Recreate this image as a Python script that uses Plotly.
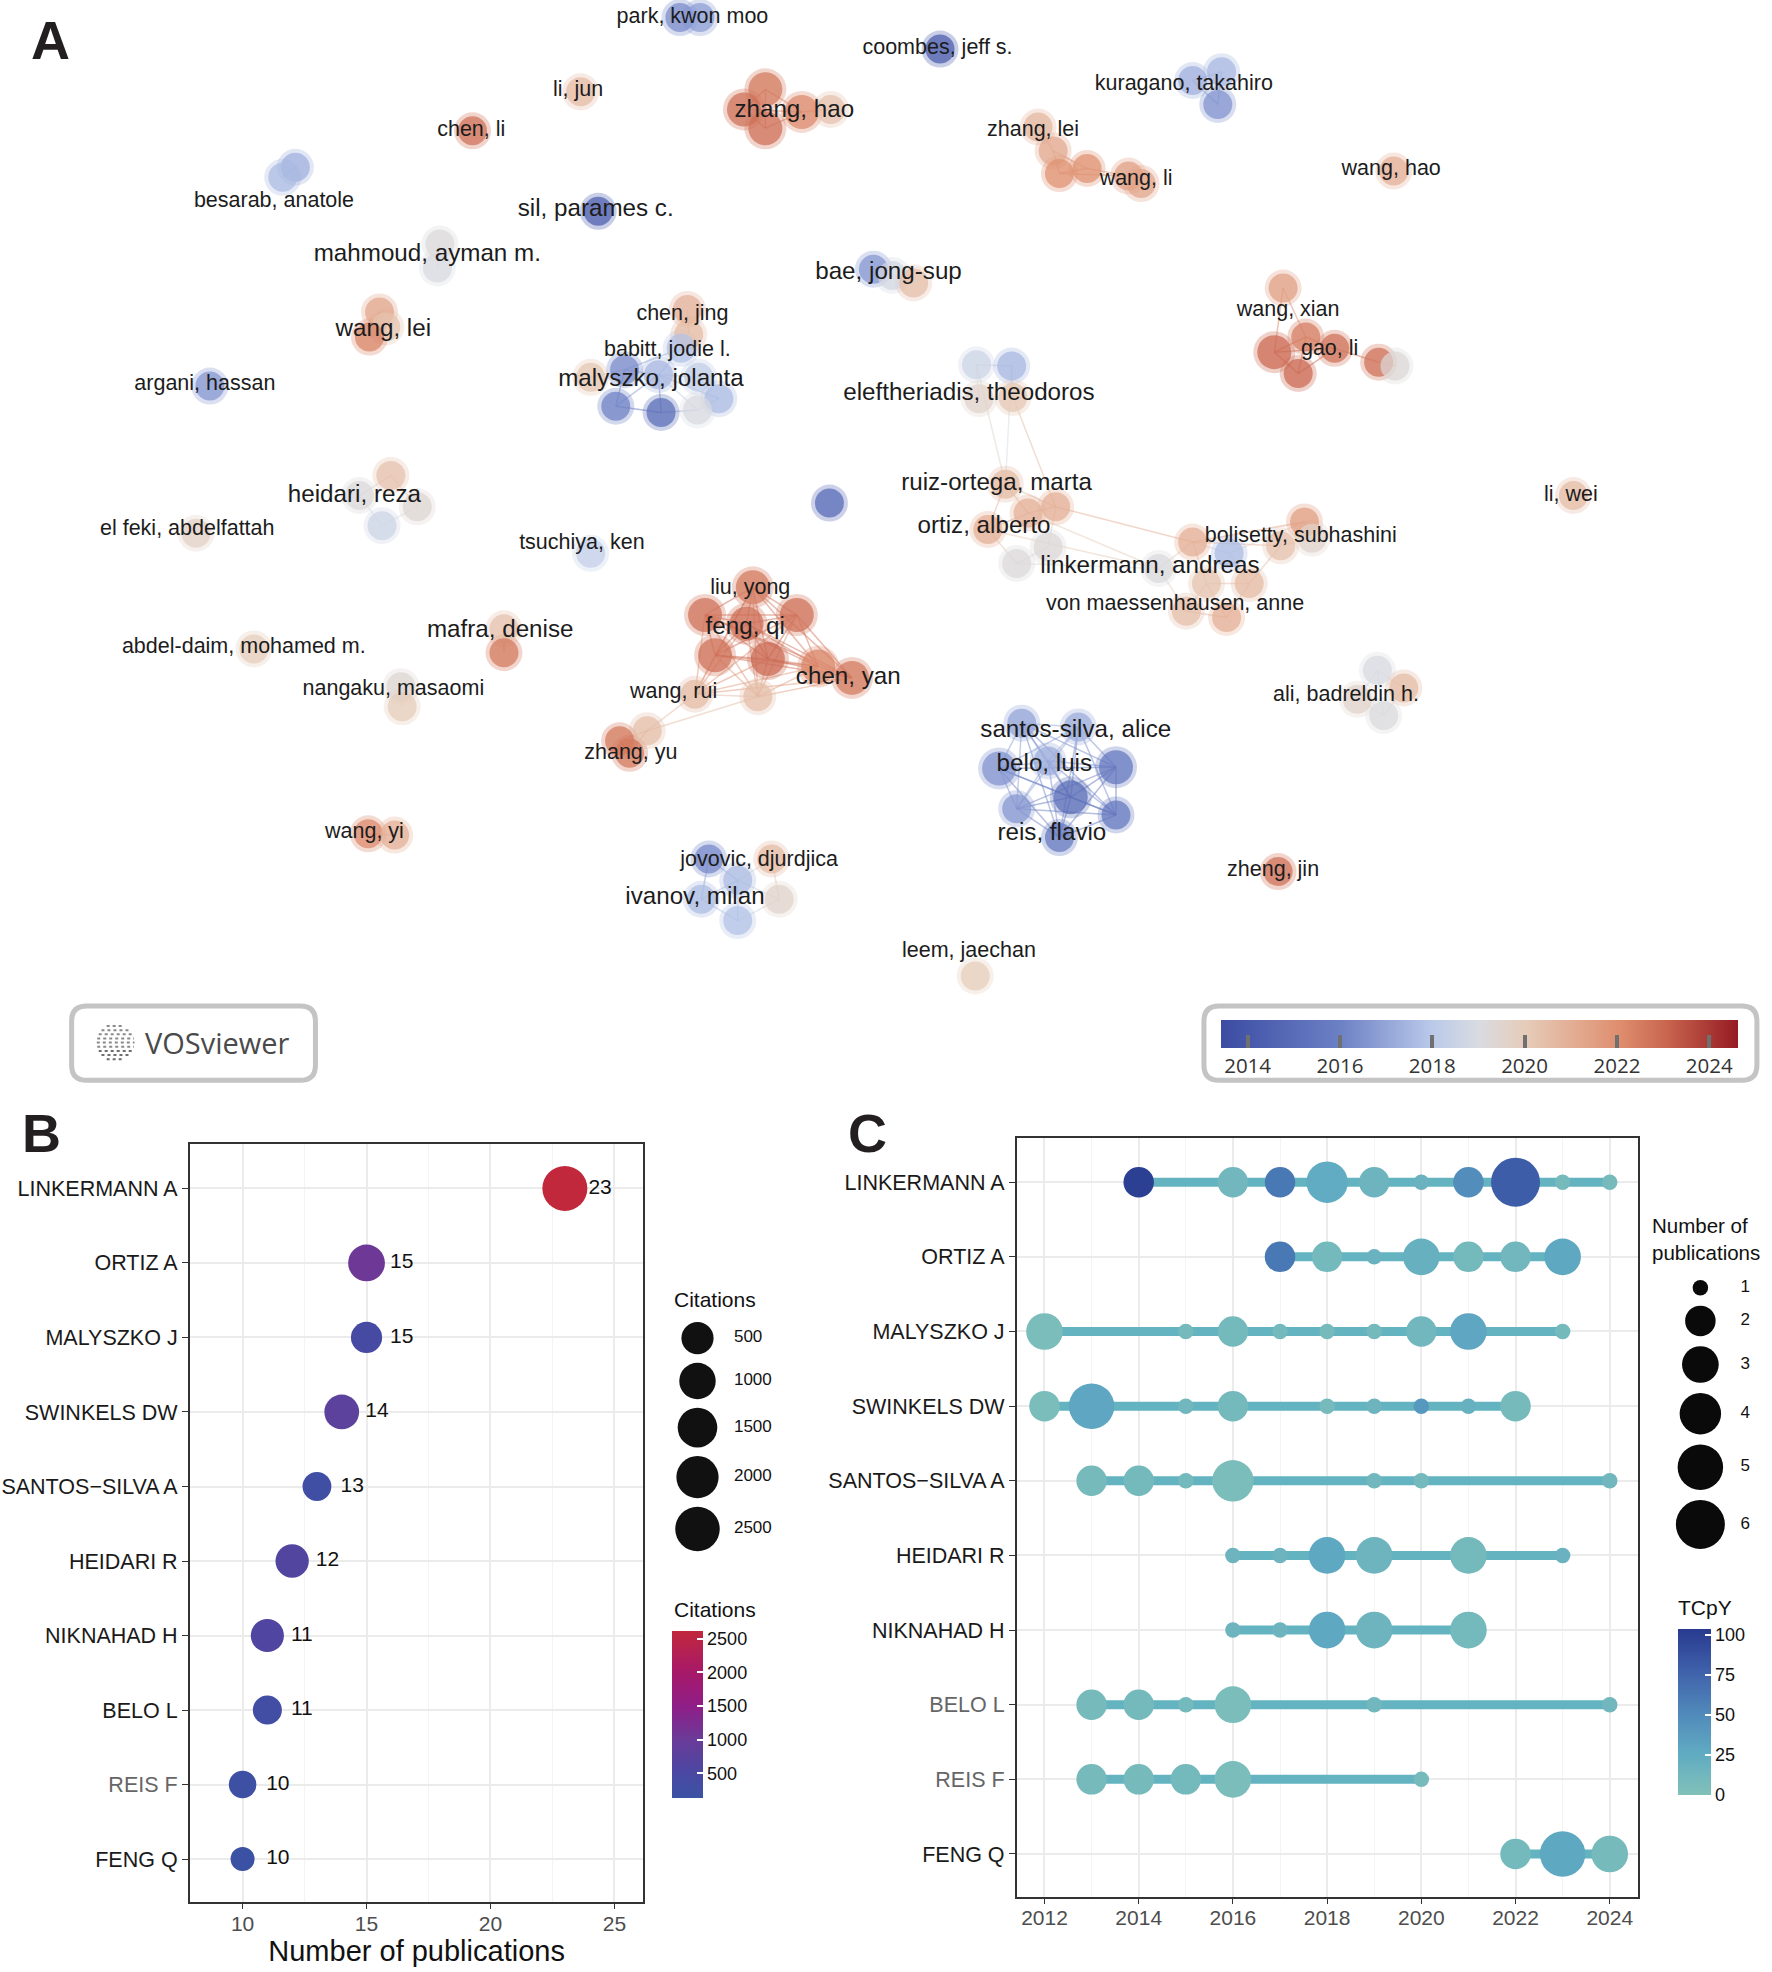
import plotly.graph_objects as go

W, H = 1772, 1972
DW, DH = 1410, 1568          # layout frame used for positions (scaled to W,H)
SX, SY = W / DW, H / DH
FONT = "Liberation Sans, Arial, sans-serif"

# ---------------- Panel A: co-authorship network ----------------
node_x = [541, 557, 748, 462, 376, 609, 592, 609, 638, 661, 235, 225, 476, 350, 348, 302, 307, 294, 547, 548,
          542, 497, 524, 470, 556, 572, 490, 526, 555, 167, 311, 286, 332, 304, 156, 470, 660, 695, 710, 727,
          949, 972, 969, 826, 838, 843, 865, 898, 908, 1109, 1021, 1039, 1014, 1062, 1033, 1097, 1110, 777, 805, 779,
          806, 800, 840, 786, 834, 809, 922, 949, 978, 960, 994, 944, 976, 1038, 1044, 1019, 1252, 599, 561, 634,
          594, 569, 611, 651, 678, 553, 603, 515, 493, 501, 401, 401, 202, 319, 320, 293, 314, 564, 614, 587,
          558, 620, 587, 813, 858, 795, 834, 888, 852, 809, 888, 843, 1096, 1117, 1080, 1101, 1017, 776, 818]
node_y = [14, 14, 39, 73, 104, 71, 87, 102, 89, 87, 133, 141, 168, 194, 213, 248, 260, 268, 246, 266,
          277, 294, 298, 300, 300, 317, 323, 328, 326, 307, 378, 394, 403, 418, 424, 440, 400, 214, 219, 225,
          64, 57, 83, 101, 120, 138, 134, 140, 146, 136, 229, 268, 280, 277, 297, 288, 291, 290, 291, 317,
          316, 385, 403, 421, 435, 448, 452, 431, 440, 464, 464, 486, 491, 415, 428, 434, 394, 467, 489, 489,
          496, 521, 524, 530, 539, 552, 554, 581, 589, 599, 500, 519, 516, 546, 562, 663, 664, 683, 683, 700,
          715, 715, 732, 575, 578, 611, 605, 610, 634, 643, 648, 666, 533, 547, 556, 569, 693, 776, 408]
node_year = [2016.3, 2016.8, 2014.2, 2020.6, 2022.8, 2022.6, 2022.8, 2022.8, 2022.2, 2020.4, 2017.3, 2017.6,
             2014.3, 2019.2, 2019.0, 2021.3, 2020.3, 2022.3, 2020.9, 2020.6, 2017.8, 2016.3, 2017.5, 2020.2,
             2018.2, 2017.6, 2016.0, 2015.0, 2019.0, 2016.6, 2020.4, 2019.2, 2019.4, 2018.6, 2019.7, 2018.3,
             2014.8, 2016.6, 2018.8, 2020.5, 2017.3, 2017.5, 2016.5, 2020.8, 2021.2, 2022.0, 2022.0, 2021.5,
             2021.3, 2021.0, 2021.5, 2022.5, 2023.0, 2022.8, 2023.0, 2022.8, 2019.3, 2018.6, 2017.5, 2019.6,
             2020.2, 2020.6, 2021.0, 2021.0, 2019.3, 2019.2, 2019.1, 2021.0, 2017.6, 2020.3, 2020.6, 2020.5,
             2021.0, 2021.6, 2019.6, 2020.4, 2020.6, 2022.6, 2022.8, 2022.8, 2022.9, 2022.8, 2023.0, 2022.3,
             2022.6, 2020.6, 2020.5, 2020.5, 2022.6, 2022.6, 2020.4, 2022.6, 2020.0, 2019.4, 2020.0, 2022.2,
             2021.0, 2016.2, 2020.6, 2017.6, 2017.6, 2019.6, 2017.8, 2017.0, 2017.2, 2016.5, 2017.2, 2015.5,
             2015.0, 2016.6, 2015.5, 2015.6, 2019.0, 2020.6, 2019.6, 2019.1, 2022.8, 2020.0, 2021.0]
node_w = [1, 1, 1, 1, 1, 2, 2, 2, 2, 1, 1, 1, 1, 1, 1, 1, 1, 1, 1, 1,
          1, 1, 1, 1, 1, 1, 1, 1, 1, 1, 1, 1, 1, 1, 1, 1, 1, 1, 1, 1,
          1, 1, 1, 1, 1, 1, 1, 1, 1, 1, 1, 1, 2, 1, 1, 1, 1, 1, 1, 1,
          1, 1, 1, 1, 1, 1, 1, 1, 1, 1, 1, 1, 1, 1, 1, 1, 1, 2, 2, 2,
          2, 2, 2, 2, 2, 1, 1, 1, 1, 1, 1, 1, 1, 1, 1, 1, 1, 1, 1, 1,
          1, 1, 1, 1, 1, 2, 1, 2, 2, 1, 1, 1, 1, 1, 1, 1, 1, 1, 1]

links = [(0, 1), (10, 11), (13, 14), (15, 16), (16, 17), (15, 17), (18, 19),
         (5, 6), (5, 7), (6, 7), (5, 8), (7, 8), (8, 9), (6, 8),
         (20, 22), (21, 22), (21, 26), (22, 27), (26, 27), (27, 28), (22, 25), (25, 28), (23, 21), (24, 22),
         (20, 21), (26, 22), (22, 28),
         (30, 31), (31, 33), (32, 33), (30, 32),
         (37, 38), (38, 39), (40, 41), (40, 42), (41, 42),
         (43, 44), (44, 45), (44, 46), (45, 46), (46, 47), (47, 48), (45, 47),
         (50, 51), (50, 52), (51, 52), (51, 53), (52, 54), (53, 54), (51, 54), (53, 55), (55, 56), (52, 53),
         (57, 58), (57, 59), (58, 60), (57, 61), (58, 61), (60, 62),
         (61, 62), (61, 63), (62, 118), (63, 118), (61, 118), (63, 65), (64, 65), (62, 64), (118, 66), (63, 66),
         (62, 67), (66, 67), (67, 68), (67, 69), (68, 70), (69, 71), (70, 72), (71, 72), (69, 72), (66, 71),
         (67, 73), (73, 74), (74, 75), (75, 67), (73, 68), (70, 75), (69, 70), (65, 66),
         (85, 87), (87, 88), (88, 89), (87, 89), (86, 87),
         (90, 91), (93, 94), (95, 96),
         (97, 99), (98, 99), (99, 100), (99, 101), (100, 102), (101, 102), (99, 102), (97, 100), (98, 101),
         (112, 113), (112, 114), (113, 115), (114, 115), (112, 115)]
feng_group = [77, 78, 79, 80, 81, 82, 83, 84, 85, 86]
santos_group = [103, 104, 105, 106, 107, 108, 109, 110, 111]

label_text = ["park, kwon moo", "coombes, jeff s.", "li, jun", "chen, li", "zhang, hao", "besarab, anatole",
              "sil, parames c.", "mahmoud, ayman m.", "kuragano, takahiro", "zhang, lei", "wang, li", "wang, hao",
              "bae, jong-sup", "chen, jing", "wang, lei", "babitt, jodie l.", "malyszko, jolanta", "argani, hassan",
              "wang, xian", "gao, li", "eleftheriadis, theodoros", "ruiz-ortega, marta", "heidari, reza", "li, wei",
              "el feki, abdelfattah", "ortiz, alberto", "bolisetty, subhashini", "tsuchiya, ken",
              "linkermann, andreas", "liu, yong", "von maessenhausen, anne", "feng, qi", "mafra, denise",
              "abdel-daim, mohamed m.", "chen, yan", "nangaku, masaomi", "wang, rui", "ali, badreldin h.",
              "santos-silva, alice", "zhang, yu", "belo, luis", "wang, yi", "reis, flavio", "jovovic, djurdjica",
              "zheng, jin", "ivanov, milan", "leem, jaechan"]
label_x = [551, 746, 460, 375, 632, 218, 474, 340, 942, 822, 904, 1107, 707, 543, 305, 531, 518, 163, 1025, 1058,
           771, 793, 282, 1250, 149, 783, 1035, 463, 915, 597, 935, 593, 398, 194, 675, 313, 536, 1071, 856, 502,
           831, 290, 837, 604, 1013, 553, 771]
label_y = [14, 39, 72, 104, 88, 160, 167, 203, 67, 104, 143, 135, 217, 250, 262, 279, 302, 306, 247, 278,
           313, 385, 394, 394, 421, 419, 427, 432, 451, 468, 481, 499, 502, 515, 539, 548, 551, 553, 581, 599,
           608, 662, 663, 684, 692, 714, 757]
label_w = [1, 1, 1, 1, 2, 1, 2, 2, 1, 1, 1, 1, 2, 1, 2, 1, 2, 1, 1, 1,
           2, 2, 2, 1, 1, 2, 1, 1, 2, 1, 1, 2, 2, 1, 2, 1, 1, 1, 2, 1,
           2, 1, 2, 1, 1, 2, 1]

year_ticks = [2014, 2016, 2018, 2020, 2022, 2024]
year_min, year_max = 2013.43, 2024.63

# ---------------- Panel B ----------------
authors = ["LINKERMANN A", "ORTIZ A", "MALYSZKO J", "SWINKELS DW", "SANTOS\u2212SILVA A",
           "HEIDARI R", "NIKNAHAD H", "BELO L", "REIS F", "FENG Q"]
pubs = [23, 15, 15, 14, 13, 12, 11, 11, 10, 10]
citations = [2607, 1050, 420, 780, 260, 620, 600, 270, 200, 128]
cit_breaks = [500, 1000, 1500, 2000, 2500]

# ---------------- Panel C ----------------
c_years = [
    [2014, 2016, 2017, 2018, 2019, 2020, 2021, 2022, 2023, 2024],
    [2017, 2018, 2019, 2020, 2021, 2022, 2023],
    [2012, 2015, 2016, 2017, 2018, 2019, 2020, 2021, 2023],
    [2012, 2013, 2015, 2016, 2018, 2019, 2020, 2021, 2022],
    [2013, 2014, 2015, 2016, 2019, 2020, 2024],
    [2016, 2017, 2018, 2019, 2021, 2023],
    [2016, 2017, 2018, 2019, 2021],
    [2013, 2014, 2015, 2016, 2019, 2024],
    [2013, 2014, 2015, 2016, 2020],
    [2022, 2023, 2024],
]
c_n = [
    [2, 2, 2, 4, 2, 1, 2, 6, 1, 1],
    [2, 2, 1, 3, 2, 2, 3],
    [3, 1, 2, 1, 1, 1, 2, 3, 1],
    [2, 5, 1, 2, 1, 1, 1, 1, 2],
    [2, 2, 1, 4, 1, 1, 1],
    [1, 1, 3, 3, 3, 1],
    [1, 1, 3, 3, 3],
    [2, 2, 1, 3, 1, 1],
    [2, 2, 2, 3, 1],
    [2, 5, 3],
]
c_tcpy = [
    [100, 12, 62, 25, 15, 18, 48, 80, 8, 8],
    [62, 10, 18, 20, 10, 12, 28],
    [5, 10, 10, 10, 8, 10, 12, 30, 10],
    [5, 30, 12, 10, 8, 15, 40, 20, 8],
    [8, 10, 10, 5, 12, 10, 12],
    [15, 15, 28, 15, 10, 18],
    [15, 15, 28, 15, 10],
    [8, 10, 10, 5, 12, 12],
    [8, 8, 10, 5, 8],
    [10, 28, 8],
]
n_breaks = [1, 2, 3, 4, 5, 6]
tcpy_ticks = [0, 25, 50, 75, 100]

# ---------------- colour scales ----------------
YEAR_SCALE = [[0, '#3B4CA2'], [0.23, '#6C80C5'], [0.41, '#BBCAEA'], [0.5, '#D9DBE0'], [0.59, '#E6CCB9'],
              [0.77, '#DF8E6E'], [0.86, '#C9664F'], [1, '#951B23']]
CIT_SCALE = [[0, '#3B52A4'], [0.15, '#4A48A3'], [0.35, '#6A3B98'], [0.55, '#8F1E87'], [0.76, '#A81968'],
             [1, '#C1283C']]
TC_SCALE = [[0, '#80C1B9'], [0.25, '#60ABC2'], [0.5, '#5088BA'], [0.75, '#3F60AA'], [1, '#283A8F']]


def hex2rgb(h):
    h = h.lstrip('#')
    return tuple(int(h[i:i + 2], 16) for i in (0, 2, 4))


def scale_rgba(scale, t, a):
    t = min(max(t, 0.0), 1.0)
    for (t0, c0), (t1, c1) in zip(scale[:-1], scale[1:]):
        if t <= t1:
            f = (t - t0) / (t1 - t0) if t1 > t0 else 0
            r0, g0, b0 = hex2rgb(c0)
            r1, g1, b1 = hex2rgb(c1)
            return f"rgba({r0 + (r1 - r0) * f:.0f},{g0 + (g1 - g0) * f:.0f},{b0 + (b1 - b0) * f:.0f},{a})"
    r, g, b = hex2rgb(scale[-1][1])
    return f"rgba({r},{g},{b},{a})"


def px(v):
    return v / DW


def py(v):
    return 1 - v / DH


fig = go.Figure()

# edges
all_links = list(links)
for grp in (feng_group, santos_group):
    for i, a in enumerate(grp):
        for b in grp[i + 1:]:
            all_links.append((a, b))
for a, b in all_links:
    t = ((node_year[a] + node_year[b]) / 2 - year_min) / (year_max - year_min)
    fig.add_trace(go.Scatter(x=[node_x[a], node_x[b]], y=[node_y[a], node_y[b]], mode='lines',
                             line=dict(color=scale_rgba(YEAR_SCALE, t, 0.5), width=1.5),
                             hoverinfo='skip', showlegend=False, xaxis='x', yaxis='y'))

# node halos + nodes
fig.add_trace(go.Scatter(x=node_x, y=node_y, mode='markers', hoverinfo='skip', showlegend=False,
                         marker=dict(size=[26 + 5 * w + 6 for w in node_w], color=node_year, coloraxis='coloraxis',
                                     opacity=0.3, line=dict(width=0)), xaxis='x', yaxis='y'))
fig.add_trace(go.Scatter(x=node_x, y=node_y, mode='markers', showlegend=False,
                         marker=dict(size=[26 + 5 * w - 2 for w in node_w], color=node_year, coloraxis='coloraxis',
                                     opacity=0.72, line=dict(width=0)), xaxis='x', yaxis='y'))
fig.add_trace(go.Scatter(x=label_x, y=label_y, mode='text', text=label_text, showlegend=False, hoverinfo='skip',
                         textposition='middle center',
                         textfont=dict(family=FONT, color='#1C1C1C', size=[21.5 + 2.7 * (w - 1) for w in label_w]),
                         xaxis='x', yaxis='y'))

# ---------------- Panel B traces ----------------
ypos = list(range(len(authors), 0, -1))
cmin_b, cmax_b = min(citations), max(citations)


def cit_size(c):
    return 24 + 21 * ((c - cmin_b) / (cmax_b - cmin_b)) ** 0.5


fig.add_trace(go.Scatter(x=pubs, y=ypos, mode='markers', showlegend=False, xaxis='x2', yaxis='y2',
                         marker=dict(size=[cit_size(c) for c in citations], color=citations,
                                     coloraxis='coloraxis2', opacity=1, line=dict(width=0))))
fig.add_trace(go.Scatter(x=[p + 0.95 for p in pubs], y=ypos, mode='text', text=[str(p) for p in pubs],
                         textposition='middle right', showlegend=False, hoverinfo='skip', xaxis='x2', yaxis='y2',
                         textfont=dict(family=FONT, size=21, color='#111111')))

# size legend (B)
leg_b_d = [cit_size(c) for c in cit_breaks]
leg_b_y = [1064]
for i in range(1, len(cit_breaks)):
    leg_b_y.append(leg_b_y[-1] + (leg_b_d[i - 1] + leg_b_d[i]) / 2 / SY + 6.8)
fig.add_trace(go.Scatter(x=[555] * len(cit_breaks), y=leg_b_y, mode='markers', showlegend=False, hoverinfo='skip',
                         marker=dict(size=leg_b_d, color='#111111', opacity=1, line=dict(width=0)),
                         xaxis='x', yaxis='y'))
fig.add_trace(go.Scatter(x=[584] * len(cit_breaks), y=leg_b_y, mode='text', text=[str(b) for b in cit_breaks],
                         textposition='middle right', showlegend=False, hoverinfo='skip',
                         textfont=dict(family=FONT, size=17, color='#111111'), xaxis='x', yaxis='y'))


# ---------------- Panel C traces ----------------
def n_size(n):
    return 15.5 + 33.5 * ((n - min(n_breaks)) / (max(n_breaks) - min(n_breaks))) ** 0.5


for k in range(len(authors)):
    fig.add_trace(go.Scatter(x=[min(c_years[k]), max(c_years[k])], y=[ypos[k], ypos[k]], mode='lines',
                             line=dict(color='#63B3C1', width=9), showlegend=False, hoverinfo='skip',
                             xaxis='x3', yaxis='y3'))
for k in range(len(authors)):
    fig.add_trace(go.Scatter(x=c_years[k], y=[ypos[k]] * len(c_years[k]), mode='markers', showlegend=False,
                             marker=dict(size=[n_size(n) for n in c_n[k]], color=c_tcpy[k], coloraxis='coloraxis3',
                                         opacity=1, line=dict(width=0)), xaxis='x3', yaxis='y3'))

leg_c_d = [n_size(n) for n in n_breaks]
leg_c_y = [1024]
for i in range(1, len(n_breaks)):
    leg_c_y.append(leg_c_y[-1] + (leg_c_d[i - 1] + leg_c_d[i]) / 2 / SY + 8)
fig.add_trace(go.Scatter(x=[1353] * len(n_breaks), y=leg_c_y, mode='markers', showlegend=False, hoverinfo='skip',
                         marker=dict(size=leg_c_d, color='#0A0A0A', opacity=1, line=dict(width=0)),
                         xaxis='x', yaxis='y'))
fig.add_trace(go.Scatter(x=[1385] * len(n_breaks), y=leg_c_y, mode='text', text=[str(b) for b in n_breaks],
                         textposition='middle right', showlegend=False, hoverinfo='skip',
                         textfont=dict(family=FONT, size=17, color='#111111'), xaxis='x', yaxis='y'))


# ---------------- layout ----------------
def rrect(x0, y0, x1, y1, r):
    return (f"M{x0 + r},{y0} L{x1 - r},{y0} Q{x1},{y0} {x1},{y0 + r} L{x1},{y1 - r} Q{x1},{y1} {x1 - r},{y1} "
            f"L{x0 + r},{y1} Q{x0},{y1} {x0},{y1 - r} L{x0},{y0 + r} Q{x0},{y0} {x0 + r},{y0} Z")


def tick_label(name, gray):
    return f'<span style="color:#666666">{name}</span>' if gray else name


grid_major = '#EBEBEB'
grid_minor = '#F4F4F4'
axis_common = dict(showline=True, mirror=True, linecolor='#333333', linewidth=1.6, ticks='outside', ticklen=6,
                   tickwidth=1.4, tickcolor='#333333', zeroline=False, showgrid=True, gridcolor=grid_major,
                   gridwidth=2)

boxB = (151, 910, 512, 1512)
boxC = (809, 905, 1303, 1508)

shapes = [
    dict(type='path', path=rrect(57, 800, 251, 859, 12), xref='x', yref='y',
         line=dict(color='#C4C4C4', width=5), fillcolor='rgba(0,0,0,0)', layer='above'),
    dict(type='path', path=rrect(958, 800, 1398, 859, 12), xref='x', yref='y',
         line=dict(color='#C4C4C4', width=5), fillcolor='rgba(0,0,0,0)', layer='above'),
]
# small VOSviewer logo: dotted globe made of short dotted rows
logo_cx, logo_cy, logo_r = 92, 829, 15
for k in range(-4, 5):
    dy = k * 3.3
    half = (logo_r ** 2 - dy ** 2) ** 0.5 if abs(dy) < logo_r else 0
    shapes.append(dict(type='line', xref='x', yref='y', x0=logo_cx - half, x1=logo_cx + half,
                       y0=logo_cy + dy, y1=logo_cy + dy,
                       line=dict(color='#8A8A8A' if k < 2 else '#6E6E6E', width=2, dash='dot')))

anno_font = dict(size=21, color='#111111', family=FONT)
fig.update_layout(
    width=W, height=H, margin=dict(l=0, r=0, t=0, b=0), paper_bgcolor='white', plot_bgcolor='white',
    showlegend=False, font=dict(family=FONT),
    xaxis=dict(domain=[0, 1], range=[0, DW], visible=False, anchor='y'),
    yaxis=dict(domain=[0, 1], range=[DH, 0], visible=False, anchor='x'),
    xaxis2=dict(domain=[px(boxB[0]), px(boxB[2])], range=[7.87, 26.17], anchor='y2', tickmode='linear', tick0=0,
                dtick=5, minor=dict(dtick=2.5, tick0=0, showgrid=True, gridcolor=grid_minor, gridwidth=1.2),
                tickfont=dict(size=21, color='#4D4D4D', family=FONT), ticklabelstandoff=-4,
                title=dict(text='Number of publications', font=dict(size=29, color='#111111', family=FONT),
                           standoff=0),
                **axis_common),
    yaxis2=dict(domain=[py(boxB[3]), py(boxB[1])], range=[0.43, 10.59], anchor='x2', tickmode='array',
                tickvals=ypos, ticktext=[tick_label(a, a == 'REIS F') for a in authors],
                tickfont=dict(size=21.5, color='#1A1A1A', family=FONT), **axis_common),
    xaxis3=dict(domain=[px(boxC[0]), px(boxC[2])], range=[2011.41, 2024.59], anchor='y3', tickmode='linear',
                tick0=2012, dtick=2, minor=dict(dtick=1, tick0=2012, showgrid=True, gridcolor=grid_minor,
                                                gridwidth=1.2),
                tickfont=dict(size=21, color='#4D4D4D', family=FONT), ticklabelstandoff=-5, **axis_common),
    yaxis3=dict(domain=[py(boxC[3]), py(boxC[1])], range=[0.43, 10.59], anchor='x3', tickmode='array',
                tickvals=ypos, ticktext=[tick_label(a, a in ('REIS F', 'BELO L')) for a in authors],
                tickfont=dict(size=21.5, color='#1A1A1A', family=FONT), **axis_common),
    coloraxis=dict(colorscale=YEAR_SCALE, cmin=year_min, cmax=year_max, showscale=True,
                   colorbar=dict(orientation='h', x=px((972 + 1383) / 2), xanchor='center', y=py(811),
                                 yanchor='top', len=411 * SX, lenmode='pixels', thickness=22 * SY,
                                 thicknessmode='pixels', xpad=0, ypad=0, outlinewidth=0, tickmode='array',
                                 tickvals=year_ticks, ticks='inside', ticklen=13, tickwidth=4, tickcolor='#707070',
                                 tickfont=dict(family='Open Sans, sans-serif', size=20.5, color='#333333'))),
    coloraxis2=dict(colorscale=CIT_SCALE, cmin=cmin_b, cmax=cmax_b, showscale=True,
                    colorbar=dict(x=px(535), xanchor='left', y=py((1297 + 1430) / 2), yanchor='middle',
                                  len=133 * SY, lenmode='pixels', thickness=25 * SX, thicknessmode='pixels',
                                  xpad=0, ypad=0, outlinewidth=0, tickmode='array', tickvals=cit_breaks,
                                  ticks='inside', ticklen=6, tickwidth=1.5, tickcolor='white',
                                  tickfont=dict(family=FONT, size=18, color='#111111'))),
    coloraxis3=dict(colorscale=TC_SCALE, cmin=0, cmax=104, showscale=True,
                    colorbar=dict(x=px(1335), xanchor='left', y=py((1295 + 1427) / 2), yanchor='middle',
                                  len=132 * SY, lenmode='pixels', thickness=26 * SX, thicknessmode='pixels',
                                  xpad=0, ypad=0, outlinewidth=0, tickmode='array', tickvals=tcpy_ticks,
                                  ticks='inside', ticklen=6, tickwidth=1.5, tickcolor='white',
                                  tickfont=dict(family=FONT, size=18, color='#111111'))),
    shapes=shapes,
    annotations=[
        dict(text='<b>A</b>', x=px(40), y=py(32), xref='paper', yref='paper', xanchor='center', yanchor='middle',
             showarrow=False, font=dict(size=54, color='#231F20', family=FONT)),
        dict(text='<b>B</b>', x=px(33), y=py(901), xref='paper', yref='paper', xanchor='center', yanchor='middle',
             showarrow=False, font=dict(size=54, color='#231F20', family=FONT)),
        dict(text='<b>C</b>', x=px(690), y=py(901), xref='paper', yref='paper', xanchor='center', yanchor='middle',
             showarrow=False, font=dict(size=54, color='#231F20', family=FONT)),
        dict(text='VOSviewer', x=px(173), y=py(829), xref='paper', yref='paper', xanchor='center',
             yanchor='middle', showarrow=False, font=dict(size=29, color='#4A4A4A', family='Open Sans, sans-serif')),
        dict(text='Citations', x=px(535), y=py(1033), xref='paper', yref='paper', xanchor='left', yanchor='middle',
             showarrow=False, font=anno_font),
        dict(text='Citations', x=px(535), y=py(1280), xref='paper', yref='paper', xanchor='left', yanchor='middle',
             showarrow=False, font=anno_font),
        dict(text='Number of<br>publications', x=px(1313), y=py(985), xref='paper', yref='paper',
             xanchor='left', yanchor='middle', align='left', showarrow=False,
             font=dict(size=20.5, color='#111111', family=FONT)),
        dict(text='TCpY', x=px(1334), y=py(1278), xref='paper', yref='paper', xanchor='left', yanchor='middle',
             showarrow=False, font=anno_font),
    ],
)

fig.write_html("out.html", config={'displayModeBar': False},
               post_script="document.body.style.margin='0px';document.body.style.padding='0px';")
